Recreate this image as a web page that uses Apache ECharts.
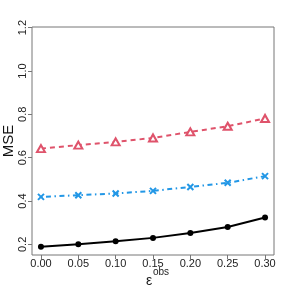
<!DOCTYPE html>
<html><head><meta charset="utf-8">
<script src="https://cdn.jsdelivr.net/npm/echarts@6/dist/echarts.min.js"></script>
<style>html,body{margin:0;padding:0;background:#fff}#c{width:288px;height:288px}</style>
</head><body><div id="c"></div>
<script>
var xValues = [0.00, 0.05, 0.10, 0.15, 0.20, 0.25, 0.30];
var blackSeries = [0.189, 0.201, 0.214, 0.230, 0.252, 0.280, 0.324];
var blueSeries = [0.419, 0.427, 0.435, 0.447, 0.465, 0.484, 0.515];
var redSeries = [0.642, 0.658, 0.673, 0.691, 0.719, 0.745, 0.781];
var xTicks = [0.00, 0.05, 0.10, 0.15, 0.20, 0.25, 0.30];
var yTicks = [0.2, 0.4, 0.6, 0.8, 1.0, 1.2];

function pairs(v){ return xValues.map(function(x,i){ return [x, v[i]]; }); }
var font = 'Liberation Sans, Arial, sans-serif';
var chart = echarts.init(document.getElementById('c'));
var triPath = 'path://M0,-10 L9,6 L-9,6 Z';
chart.setOption({
  animation: false,
  grid: {left: 32, right: 14, top: 27, bottom: 33, show: true, borderColor: '#777', borderWidth: 1,
    outerBoundsMode: 'none', containLabel: false},
  xAxis: {
    type: 'value', min: -0.012, max: 0.312,
    axisLine: {show: false, onZero: false}, splitLine: {show: false},
    axisTick: {show: true, inside: false, length: 4, lineStyle: {color: '#777'}, customValues: xTicks},
    axisLabel: {customValues: xTicks, color: '#222', fontSize: 11, fontFamily: font, margin: 3,
      formatter: function(v){ return v.toFixed(2); }}
  },
  yAxis: {
    type: 'value', min: 0.151, max: 1.203,
    axisLine: {show: false, onZero: false}, splitLine: {show: false},
    axisTick: {show: true, inside: false, length: 4, lineStyle: {color: '#777'}, customValues: yTicks},
    axisLabel: {customValues: yTicks, color: '#222', fontSize: 11, fontFamily: font, rotate: 90, margin: 4,
      align: 'center', verticalAlign: 'bottom',
      formatter: function(v){ return v.toFixed(1); }},
    name: 'MSE', nameLocation: 'middle', nameGap: 16, nameRotate: 90, nameMoveOverlap: false,
    nameTextStyle: {fontSize: 15, fontFamily: font, color: '#111'}
  },
  graphic: [
    {type: 'text', left: 146, top: 274, style: {text: 'ε', fontSize: 14, fontFamily: font, fill: '#222'}},
    {type: 'text', left: 153, top: 267, style: {text: 'obs', fontSize: 10, fontFamily: font, fill: '#222'}}
  ],
  series: [
    {type: 'line', data: pairs(redSeries), symbol: triPath, symbolSize: [8,7], showSymbol: true,
     lineStyle: {color: '#DF536B', width: 2, type: [5,4]},
     itemStyle: {color: '#fff', borderColor: '#DF536B', borderWidth: 2}},
    {type: 'line', data: pairs(blueSeries), symbol: 'path://M-1,-1 L1,1 M1,-1 L-1,1', symbolSize: 6, showSymbol: true,
     lineStyle: {color: '#2297E6', width: 2, type: [1.5,3.5,5,3.5]},
     itemStyle: {color: 'none', borderColor: '#2297E6', borderWidth: 2}},
    {type: 'line', data: pairs(blackSeries), symbol: 'circle', symbolSize: 6, showSymbol: true,
     lineStyle: {color: '#000', width: 2},
     itemStyle: {color: '#000'}}
  ]
});
</script></body></html>
